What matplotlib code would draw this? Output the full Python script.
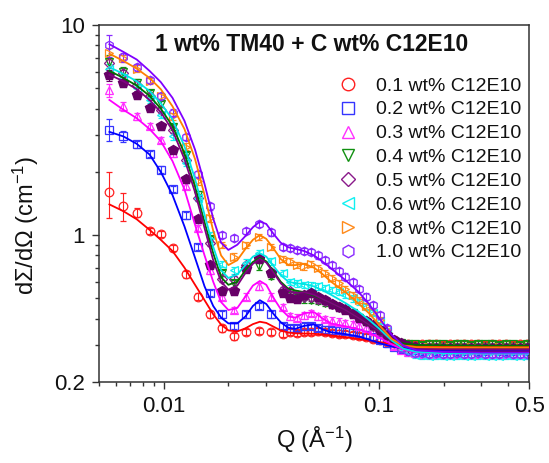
import numpy as np
import matplotlib
matplotlib.use('Agg')
import matplotlib.pyplot as plt
from matplotlib.lines import Line2D
from matplotlib.ticker import LogLocator, NullFormatter, FixedLocator, FixedFormatter

plt.rcParams['font.family'] = ['Liberation Sans', 'DejaVu Sans']
plt.rcParams['mathtext.default'] = 'regular'

# measured Q (1/A): coarse steps at low Q, denser from ~0.036
q = [0.0056, 0.0065, 0.0075, 0.0086, 0.0097, 0.0111, 0.0127, 0.0144, 0.0164, 0.0187,
     0.0212, 0.0242, 0.0277, 0.0316, 0.036,
     0.0385, 0.0415, 0.0447, 0.0482, 0.052, 0.056, 0.0603, 0.065, 0.07, 0.0755,
     0.0813, 0.0876, 0.0944, 0.1017, 0.1096, 0.118, 0.127, 0.137, 0.148, 0.159,
     0.171, 0.185, 0.199, 0.214, 0.231, 0.249, 0.268, 0.289, 0.311, 0.335,
     0.361, 0.389, 0.419, 0.452, 0.487]

i_01 = [1.60, 1.38, 1.28, 1.05, 1.01, 0.87, 0.65, 0.51, 0.42, 0.36, 0.33, 0.345, 0.35, 0.345, 0.338,
        0.345, 0.342, 0.345, 0.347, 0.348, 0.346, 0.342, 0.34, 0.338, 0.335,
        0.332, 0.328, 0.322, 0.316, 0.31, 0.305, 0.302, 0.302, 0.301, 0.303,
        0.302, 0.304, 0.301, 0.303, 0.302, 0.304, 0.302, 0.303, 0.301, 0.304,
        0.302, 0.303, 0.301, 0.302, 0.303]
i_02 = [3.17, 2.95, 2.71, 2.44, 2.05, 1.66, 1.24, 0.88, 0.53, 0.42, 0.37, 0.42, 0.46, 0.42, 0.37,
        0.36, 0.362, 0.368, 0.37, 0.362, 0.355, 0.352, 0.352, 0.35, 0.347,
        0.342, 0.336, 0.328, 0.318, 0.305, 0.295, 0.288, 0.285, 0.283, 0.282,
        0.283, 0.282, 0.281, 0.283, 0.282, 0.281, 0.283, 0.282, 0.281, 0.283,
        0.282, 0.281, 0.282, 0.283, 0.282]
i_03 = [4.88, 4.10, 3.67, 3.31, 2.84, 2.45, 1.72, 1.08, 0.68, 0.51, 0.44, 0.51, 0.57, 0.51, 0.455,
        0.41, 0.405, 0.415, 0.425, 0.41, 0.398, 0.392, 0.388, 0.383, 0.377,
        0.37, 0.362, 0.35, 0.338, 0.318, 0.298, 0.285, 0.278, 0.275, 0.273,
        0.272, 0.273, 0.271, 0.272, 0.273, 0.271, 0.272, 0.273, 0.271, 0.272,
        0.271, 0.273, 0.272, 0.271, 0.272]
i_04 = [6.7, 6.0, 5.3, 4.74, 4.2, 3.27, 2.41, 1.56, 0.96, 0.66, 0.59, 0.69, 0.71, 0.64, 0.53,
        0.52, 0.505, 0.495, 0.49, 0.485, 0.475, 0.465, 0.452, 0.44, 0.425,
        0.405, 0.385, 0.365, 0.345, 0.33, 0.315, 0.307, 0.303, 0.302, 0.301,
        0.303, 0.302, 0.304, 0.301, 0.303, 0.302, 0.301, 0.303, 0.302, 0.304,
        0.301, 0.302, 0.303, 0.301, 0.302]
i_05 = [6.6, 5.9, 5.2, 4.57, 3.95, 3.17, 2.28, 1.5, 0.92, 0.62, 0.62, 0.72, 0.78, 0.67, 0.55,
        0.54, 0.52, 0.51, 0.505, 0.495, 0.485, 0.47, 0.457, 0.443, 0.427,
        0.408, 0.39, 0.37, 0.35, 0.332, 0.315, 0.302, 0.295, 0.292, 0.291,
        0.29, 0.291, 0.29, 0.289, 0.291, 0.29, 0.289, 0.29, 0.291, 0.29,
        0.289, 0.29, 0.291, 0.29, 0.289]
i_06 = [6.2, 5.6, 5.0, 4.4, 3.74, 2.95, 2.2, 1.5, 1.0, 0.73, 0.68, 0.74, 0.82, 0.75, 0.66,
        0.6, 0.59, 0.578, 0.575, 0.57, 0.56, 0.55, 0.535, 0.52, 0.5,
        0.48, 0.455, 0.425, 0.39, 0.35, 0.315, 0.29, 0.277, 0.27, 0.268,
        0.267, 0.268, 0.266, 0.267, 0.268, 0.266, 0.267, 0.268, 0.266, 0.267,
        0.266, 0.268, 0.267, 0.266, 0.267]
i_08 = [7.35, 6.95, 6.2, 5.4, 4.6, 3.67, 2.64, 1.8, 1.2, 0.9, 0.79, 0.9, 0.98, 0.88, 0.77,
        0.75, 0.72, 0.71, 0.73, 0.7, 0.66, 0.625, 0.59, 0.555, 0.52,
        0.49, 0.46, 0.43, 0.395, 0.355, 0.32, 0.3, 0.293, 0.291, 0.29,
        0.292, 0.291, 0.29, 0.292, 0.291, 0.29, 0.292, 0.291, 0.29, 0.291,
        0.292, 0.29, 0.291, 0.292, 0.29]
i_10 = [8.03, 7.03, 6.3, 5.48, 4.57, 3.83, 2.93, 1.96, 1.37, 1.0, 0.97, 1.05, 1.13, 1.03, 0.88,
        0.87, 0.85, 0.84, 0.83, 0.8, 0.76, 0.72, 0.675, 0.635, 0.595,
        0.555, 0.51, 0.465, 0.415, 0.36, 0.315, 0.29, 0.28, 0.276, 0.274,
        0.273, 0.274, 0.272, 0.273, 0.274, 0.272, 0.273, 0.274, 0.272, 0.273,
        0.272, 0.274, 0.273, 0.272, 0.273]
# second 0.5 wt% set, filled symbols
i_05b = [5.78, 5.28, 4.65, 4.02, 3.29, 2.55, 1.84, 1.19, 0.72, 0.54, 0.54, 0.69, 0.77, 0.66, 0.53,
         0.50, 0.495, 0.52, 0.53, 0.505, 0.49, 0.47, 0.455, 0.44, 0.42,
         0.405, 0.39, 0.372, 0.352, 0.335, 0.318, 0.305, 0.297, 0.293, 0.291,
         0.29, 0.291, 0.289, 0.29, 0.291, 0.289, 0.29, 0.291, 0.289, 0.29,
         0.291, 0.29, 0.289, 0.29, 0.29]

# relative error of the first three points, rest ~3.5 %
e_lo = {'0.1': [0.25, 0.15, 0.05], '0.2': [0.12, 0.06, 0.04], '0.3': [0.07, 0.05, 0.04],
        '0.4': [0.07, 0.05, 0.04], '0.5': [0.05, 0.04, 0.04], '0.6': [0.05, 0.04, 0.04],
        '0.8': [0.06, 0.04, 0.04], '1.0': [0.12, 0.05, 0.04], '0.5b': [0.06, 0.04, 0.04]}

# model fits
qf = [0.0056, 0.0065, 0.0075, 0.0086, 0.0097, 0.011, 0.0125, 0.014, 0.0155, 0.017,
      0.0185, 0.02, 0.022, 0.024, 0.026, 0.028, 0.030, 0.0325, 0.035, 0.038,
      0.041, 0.045, 0.05, 0.055, 0.06, 0.07, 0.08, 0.09, 0.1, 0.115,
      0.13, 0.15, 0.2, 0.3, 0.5]
f_01 = [1.40, 1.30, 1.19, 1.06, 0.95, 0.84, 0.70, 0.58, 0.49, 0.42,
        0.375, 0.352, 0.348, 0.36, 0.377, 0.387, 0.382, 0.366, 0.352, 0.344,
        0.341, 0.34, 0.339, 0.337, 0.333, 0.327, 0.321, 0.315, 0.31, 0.303,
        0.299, 0.297, 0.296, 0.296, 0.296]
f_02 = [3.1, 2.95, 2.72, 2.42, 2.0, 1.55, 1.1, 0.78, 0.57, 0.46,
        0.405, 0.38, 0.38, 0.41, 0.46, 0.49, 0.47, 0.42, 0.385, 0.362,
        0.358, 0.37, 0.376, 0.355, 0.345, 0.338, 0.33, 0.318, 0.307, 0.295,
        0.288, 0.285, 0.284, 0.284, 0.284]
f_03 = [4.4, 3.95, 3.6, 3.2, 2.8, 2.25, 1.65, 1.12, 0.8, 0.6,
        0.48, 0.44, 0.45, 0.51, 0.575, 0.605, 0.58, 0.5, 0.445, 0.41,
        0.405, 0.425, 0.43, 0.4, 0.38, 0.368, 0.357, 0.343, 0.326, 0.302,
        0.285, 0.277, 0.274, 0.273, 0.273]
f_04 = [6.05, 5.6, 5.15, 4.6, 4.0, 3.3, 2.45, 1.7, 1.15, 0.82,
        0.63, 0.58, 0.6, 0.68, 0.745, 0.78, 0.75, 0.67, 0.6, 0.555,
        0.545, 0.535, 0.515, 0.495, 0.475, 0.44, 0.405, 0.375, 0.35, 0.318,
        0.305, 0.3, 0.299, 0.298, 0.298]
f_05 = [5.8, 5.4, 4.95, 4.4, 3.85, 3.15, 2.3, 1.6, 1.08, 0.76,
        0.6, 0.55, 0.575, 0.66, 0.73, 0.77, 0.74, 0.66, 0.59, 0.545,
        0.53, 0.535, 0.52, 0.495, 0.475, 0.44, 0.405, 0.375, 0.35, 0.315,
        0.295, 0.288, 0.286, 0.285, 0.285]
f_06 = [6.3, 5.85, 5.4, 4.85, 4.25, 3.55, 2.65, 1.85, 1.25, 0.88,
        0.68, 0.625, 0.65, 0.72, 0.79, 0.82, 0.79, 0.71, 0.645, 0.6,
        0.59, 0.585, 0.57, 0.545, 0.52, 0.475, 0.435, 0.395, 0.36, 0.315,
        0.288, 0.278, 0.274, 0.273, 0.273]
f_08 = [7.3, 6.75, 6.2, 5.6, 4.95, 4.1, 3.2, 2.3, 1.55, 1.05,
        0.8, 0.72, 0.76, 0.86, 0.95, 1.0, 0.96, 0.86, 0.77, 0.72,
        0.72, 0.73, 0.7, 0.65, 0.6, 0.535, 0.475, 0.425, 0.375, 0.32,
        0.298, 0.293, 0.292, 0.292, 0.292]
f_10 = [8.1, 7.45, 6.85, 6.05, 5.35, 4.5, 3.5, 2.55, 1.75, 1.2,
        0.92, 0.85, 0.9, 0.99, 1.09, 1.16, 1.13, 1.01, 0.92, 0.875,
        0.86, 0.84, 0.8, 0.745, 0.695, 0.61, 0.54, 0.47, 0.405, 0.335,
        0.298, 0.283, 0.278, 0.276, 0.276]

series = [
    ('0.1', i_01, f_01, 'o', '#FF2020', '#FF0000'),
    ('0.2', i_02, f_02, 's', '#3535FF', '#0000FF'),
    ('0.3', i_03, f_03, '^', '#FF30FF', '#FF00FF'),
    ('0.4', i_04, f_04, 'v', '#109010', '#007000'),
    ('0.5', i_05, f_05, 'D', '#8A1A8A', '#800080'),
    ('0.6', i_06, f_06, '<', '#10F0F0', '#00E5E5'),
    ('0.8', i_08, f_08, '>', '#FF8A1A', '#FF8000'),
    ('1.0', i_10, f_10, 'h', '#8A2AFF', '#8000FF'),
]

fig = plt.figure(figsize=(5.49, 4.63), dpi=100)
ax = fig.add_axes([0.180, 0.175, 0.784, 0.771])
ax.set_xscale('log')
ax.set_yscale('log')

qa = np.array(q)
handles = []
for key, ii, ff, mk, mc, lc in series:
    ii = np.array(ii)
    rel = np.full(len(qa), 0.035)
    rel[:3] = e_lo[key]
    ms = 5.0 if mk == 'D' else 6.2
    ax.errorbar(qa, ii, yerr=rel * ii, fmt=mk, ms=ms, mfc='none', mec=mc, mew=0.9,
                ecolor=mc, elinewidth=0.8, capsize=2.2, capthick=0.8, zorder=2)
    handles.append(Line2D([], [], ls='none', marker=mk, ms=ms * 1.45, mfc='none',
                          mec=mc, mew=1.0, label=key + ' wt% C12E10'))

ii = np.array(i_05b)
rel = np.full(len(qa), 0.035)
rel[:3] = e_lo['0.5b']
ax.errorbar(qa, ii, yerr=rel * ii, fmt='p', ms=7, mfc='#660066', mec='#660066',
            ecolor='#660066', elinewidth=0.8, capsize=2.2, capthick=0.8, zorder=3)

for key, ii, ff, mk, mc, lc in series:
    ax.plot(qf, ff, '-', color=lc, lw=1.3, zorder=4)

ax.set_xlim(0.005, 0.5)
ax.set_ylim(0.2, 10)

ax.xaxis.set_major_locator(FixedLocator([0.01, 0.1, 0.5]))
ax.xaxis.set_major_formatter(FixedFormatter(['0.01', '0.1', '0.5']))
ax.xaxis.set_minor_locator(LogLocator(base=10, subs=np.arange(2, 10)))
ax.xaxis.set_minor_formatter(NullFormatter())
ax.yaxis.set_major_locator(FixedLocator([0.2, 1, 10]))
ax.yaxis.set_major_formatter(FixedFormatter(['0.2', '1', '10']))
ax.yaxis.set_minor_locator(LogLocator(base=10, subs=np.arange(2, 10)))
ax.yaxis.set_minor_formatter(NullFormatter())

ax.tick_params(which='both', direction='out', top=False, right=False,
               color='#333333', width=1.0, labelsize=16, labelcolor='#111111')
ax.tick_params(which='major', length=5, pad=5)
ax.tick_params(which='minor', length=3)
for sp in ax.spines.values():
    sp.set_color('#333333')
    sp.set_linewidth(1.1)

ax.set_xlabel('Q (Å$^{-1}$)', fontsize=17, color='#111111')
ax.set_ylabel('dΣ/dΩ (cm$^{-1}$)', fontsize=17, color='#111111')
ax.xaxis.set_label_coords(0.5, -0.12)
ax.yaxis.set_label_coords(-0.135, 0.44)

ax.text(0.495, 0.945, '1 wt% TM40 + C wt% C12E10', transform=ax.transAxes,
        ha='center', va='center', fontsize=16.5, fontweight='bold', color='#111111')

ax.legend(handles=handles, loc='upper right', bbox_to_anchor=(1.0, 0.876),
          borderaxespad=0, frameon=False, fontsize=14, handlelength=1.0,
          handletextpad=0.95, labelspacing=0.32, labelcolor='#111111')

fig.savefig('out.png', dpi=100)
